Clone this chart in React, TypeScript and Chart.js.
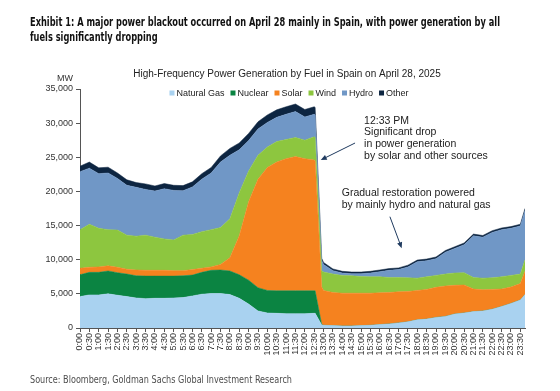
import React, { useEffect, useRef } from 'react';
import { Chart, registerables } from 'chart.js';

Chart.register(...registerables);

// ---------- data (hours of day, MW) ----------
const times = [
  0, 0.5, 1, 1.5, 2, 2.5, 3, 3.5, 4, 4.5, 5, 5.5, 6, 6.5, 7, 7.5, 8, 8.5, 9, 9.5, 10, 10.5, 11, 11.5, 12, 12.5,
  12.55, 12.9,
  13, 13.5, 14, 14.5, 15, 15.5, 16, 16.5, 17, 17.5, 18, 18.5, 19, 19.5, 20, 20.5, 21, 21.5, 22, 22.5, 23, 23.5,
  23.75,
];

const naturalGas = [
  4600, 4850, 4850, 5000, 4800, 4600, 4400, 4300, 4350, 4350, 4400, 4450, 4700, 4950, 5050, 5050, 4900, 4350, 3500, 2500, 2200, 2150, 2100, 2100, 2100, 2150,
  2150, 450,
  400, 350, 300, 300, 350, 400, 500, 600, 750, 900, 1200, 1300, 1550, 1700, 2050, 2200, 2400, 2500, 2750, 3150, 3600, 4100,
  4900,
];

const nuclear = [
  3200, 3300, 3300, 3350, 3300, 3300, 3250, 3300, 3250, 3250, 3200, 3200, 3050, 3200, 3400, 3450, 3450, 3450, 3500, 3400, 3300, 3300, 3350, 3350, 3350, 3300,
  3300, 50,
  0, 0, 0, 0, 0, 0, 0, 0, 0, 0, 0, 0, 0, 0, 0, 0, 0, 0, 0, 0, 0, 0,
  0,
];

const solar = [
  950, 750, 800, 750, 800, 700, 850, 850, 850, 850, 800, 750, 800, 600, 500, 800, 1950, 5700, 11500, 15900, 18000, 18850, 19350, 19650, 19350, 19150,
  19050, 5500,
  5100, 4850, 4800, 4800, 4750, 4700, 4650, 4600, 4550, 4450, 4300, 4350, 4400, 4450, 4200, 4100, 3300, 3100, 2900, 2550, 2400, 2400,
  3400,
];

const wind = [
  5650, 6300, 5650, 5300, 5450, 5000, 4950, 5150, 4850, 4600, 4500, 5200, 5150, 5350, 5450, 5400, 5700, 6300, 4500, 3500, 3000, 3000, 2800, 2800, 2700, 3400,
  3400, 2400,
  2700, 2700, 2600, 2550, 2450, 2400, 2350, 2200, 2100, 2000, 1800, 1850, 1750, 1750, 1800, 1800, 1700, 1700, 1700, 1800, 1700, 1400,
  1700,
];

const hydro = [
  8500, 8200, 8000, 8300, 7550, 7300, 7150, 6700, 6750, 7350, 7250, 6500, 6950, 7700, 8300, 9600, 9300, 6300, 4450, 3850, 3600, 3550, 3700, 3800, 3400, 3300,
  3300, 1500,
  1100, 500, 350, 300, 400, 550, 750, 1050, 1150, 1600, 2400, 2350, 2450, 3200, 3600, 4100, 6100, 6000, 6650, 6900, 6900, 7050,
  7200,
];

const other = [
  800, 900, 850, 850, 800, 800, 700, 800, 750, 750, 750, 750, 750, 800, 800, 900, 1000, 1000, 1050, 1050, 1100, 1100, 1100, 1100, 1100, 1100,
  1100, 300,
  300, 250, 250, 250, 250, 250, 250, 250, 250, 250, 250, 250, 250, 250, 250, 250, 250, 250, 250, 250, 250, 250,
  300,
];

const seriesNames = ['Natural Gas', 'Nuclear', 'Solar', 'Wind', 'Hydro', 'Other'];
const seriesColors = ['#a9d2f0', '#0b8442', '#f5821f', '#8dc63f', '#7097c6', '#0d2541'];

const yMin = 0;
const yMax = 35000;
const yStep = 5000;
const xMin = 0;
const xMax = 23.75;
const xStep = 0.5;

const exhibitTitle = [
  'Exhibit 1: A major power blackout occurred on April 28 mainly in Spain, with power generation by all',
  'fuels significantly dropping',
];
const chartTitle = 'High-Frequency Power Generation by Fuel in Spain on April 28, 2025';
const unitLabel = 'MW';
const sourceText = 'Source: Bloomberg, Goldman Sachs Global Investment Research';

// annotation anchors in data units [hours, MW]
const annotations = [
  {
    lines: ['12:33 PM', 'Significant drop', 'in power generation', 'by solar and other sources'],
    textAt: [15.16, 30360],
    arrowFrom: [14.68, 27090],
    arrowTo: [12.85, 24600],
  },
  {
    lines: ['Gradual restoration powered', 'by mainly hydro and natural gas'],
    textAt: [13.97, 19720],
    arrowFrom: [16.54, 16300],
    arrowTo: [17.17, 11670],
  },
];

const FONT = '"Liberation Sans", Arial, sans-serif';
const CONDENSED = '"Liberation Sans Narrow", "DejaVu Sans Condensed", "Liberation Sans", sans-serif';

function fmtTime(v: number) {
  const h = Math.floor(v + 1e-9);
  const m = Math.round((v - h) * 60);
  return `${h}:${m < 10 ? '0' + m : m}`;
}

const overlay = {
  id: 'overlay',
  afterDraw(chart: any) {
    const ctx: CanvasRenderingContext2D = chart.ctx;
    const xs = chart.scales.x;
    const ys = chart.scales.y;
    ctx.save();

    // Exhibit title (condensed bold)
    ctx.textBaseline = 'middle';
    ctx.textAlign = 'left';
    ctx.fillStyle = '#111111';
    ctx.font = `bold 12px ${CONDENSED}`;
    const w1 = ctx.measureText(exhibitTitle[0]).width;
    const sx = 470 / w1;
    exhibitTitle.forEach((line, i) => {
      ctx.save();
      ctx.translate(30, 23 + i * 15);
      ctx.scale(sx, 1);
      ctx.fillText(line, 0, 0);
      ctx.restore();
    });

    // Source
    ctx.fillStyle = '#4d4d4d';
    ctx.font = `11px ${CONDENSED}`;
    const ws = ctx.measureText(sourceText).width;
    ctx.save();
    ctx.translate(30, 380);
    ctx.scale(262 / ws, 1);
    ctx.fillText(sourceText, 0, 0);
    ctx.restore();

    // Chart title
    ctx.fillStyle = '#222222';
    ctx.font = `10px ${FONT}`;
    ctx.textAlign = 'center';
    ctx.fillText(chartTitle, 287, 74);

    // Legend
    ctx.font = `9px ${FONT}`;
    ctx.textAlign = 'left';
    const box = 5;
    const gapBoxText = 2;
    const gapItems = 6;
    const widths = seriesNames.map((n) => ctx.measureText(n).width);
    const total = widths.reduce((a, w) => a + box + gapBoxText + w, 0) + gapItems * (seriesNames.length - 1);
    let lx = 289 - total / 2;
    const ly = 93;
    seriesNames.forEach((n, i) => {
      ctx.fillStyle = seriesColors[i];
      ctx.fillRect(lx, ly - box / 2, box, box);
      ctx.fillStyle = '#222222';
      ctx.fillText(n, lx + box + gapBoxText, ly + 0.5);
      lx += box + gapBoxText + widths[i] + gapItems;
    });

    // Unit label
    ctx.font = `9px ${FONT}`;
    ctx.fillStyle = '#333333';
    ctx.fillText(unitLabel, 57, 79);

    // Annotations
    annotations.forEach((a) => {
      ctx.font = `10.5px ${FONT}`;
      ctx.fillStyle = '#222222';
      ctx.textAlign = 'left';
      const tx = xs.getPixelForValue(a.textAt[0]);
      const ty = ys.getPixelForValue(a.textAt[1]);
      a.lines.forEach((l, i) => ctx.fillText(l, tx, ty + i * 11.8));

      const x1 = xs.getPixelForValue(a.arrowFrom[0]);
      const y1 = ys.getPixelForValue(a.arrowFrom[1]);
      const x2 = xs.getPixelForValue(a.arrowTo[0]);
      const y2 = ys.getPixelForValue(a.arrowTo[1]);
      const ang = Math.atan2(y2 - y1, x2 - x1);
      const headLen = 6;
      const headW = 2.6;
      ctx.strokeStyle = '#1f3a5f';
      ctx.fillStyle = '#1f3a5f';
      ctx.lineWidth = 1;
      ctx.beginPath();
      ctx.moveTo(x1, y1);
      ctx.lineTo(x2 - Math.cos(ang) * headLen * 0.8, y2 - Math.sin(ang) * headLen * 0.8);
      ctx.stroke();
      ctx.beginPath();
      ctx.moveTo(x2, y2);
      ctx.lineTo(
        x2 - Math.cos(ang) * headLen + Math.sin(ang) * headW,
        y2 - Math.sin(ang) * headLen - Math.cos(ang) * headW
      );
      ctx.lineTo(
        x2 - Math.cos(ang) * headLen - Math.sin(ang) * headW,
        y2 - Math.sin(ang) * headLen + Math.cos(ang) * headW
      );
      ctx.closePath();
      ctx.fill();
    });

    ctx.restore();
  },
};

export default function App() {
  const ref = useRef<HTMLCanvasElement>(null);

  useEffect(() => {
    const canvas = ref.current;
    if (!canvas) return;
    const series = [naturalGas, nuclear, solar, wind, hydro, other];
    const chart = new Chart(canvas, {
      type: 'line',
      data: {
        datasets: series.map((s, i) => ({
          label: seriesNames[i],
          data: s.map((v, j) => ({ x: times[j], y: v })),
          backgroundColor: seriesColors[i],
          borderColor: seriesColors[i],
          borderWidth: 0.5,
          pointRadius: 0,
          pointHoverRadius: 0,
          fill: i === 0 ? 'origin' : '-1',
          tension: 0,
        })),
      },
      options: {
        responsive: false,
        animation: false,
        devicePixelRatio: 1,
        events: [],
        layout: { padding: { left: 30, right: 35, top: 89, bottom: 23 } },
        plugins: {
          legend: { display: false },
          title: { display: false },
          tooltip: { enabled: false },
        },
        scales: {
          x: {
            type: 'linear',
            min: xMin,
            max: xMax,
            afterFit: (s: any) => {
              s.height = 40;
            },
            ticks: {
              stepSize: xStep,
              includeBounds: false,
              autoSkip: false,
              maxRotation: 90,
              minRotation: 90,
              padding: 1,
              color: '#333333',
              font: { family: FONT, size: 9 },
              callback: (v: any) => fmtTime(Number(v)),
            },
            grid: { drawOnChartArea: false, drawTicks: true, tickLength: 4, color: '#555555' },
            border: { display: true, color: '#555555' },
          },
          y: {
            stacked: true,
            min: yMin,
            max: yMax,
            afterFit: (s: any) => {
              s.width = 50;
            },
            ticks: {
              stepSize: yStep,
              padding: 3,
              color: '#333333',
              font: { family: FONT, size: 9 },
              callback: (v: any) => Number(v).toLocaleString('en-US'),
            },
            grid: { drawOnChartArea: false, drawTicks: true, tickLength: 4, color: '#555555' },
            border: { display: true, color: '#555555' },
          },
        },
      } as any,
      plugins: [overlay],
    });
    return () => chart.destroy();
  }, []);

  return (
    <div style={{ position: 'absolute', left: 0, top: 0, width: 560, height: 391, background: '#ffffff' }}>
      <canvas ref={ref} width={560} height={391} style={{ display: 'block' }} />
    </div>
  );
}
